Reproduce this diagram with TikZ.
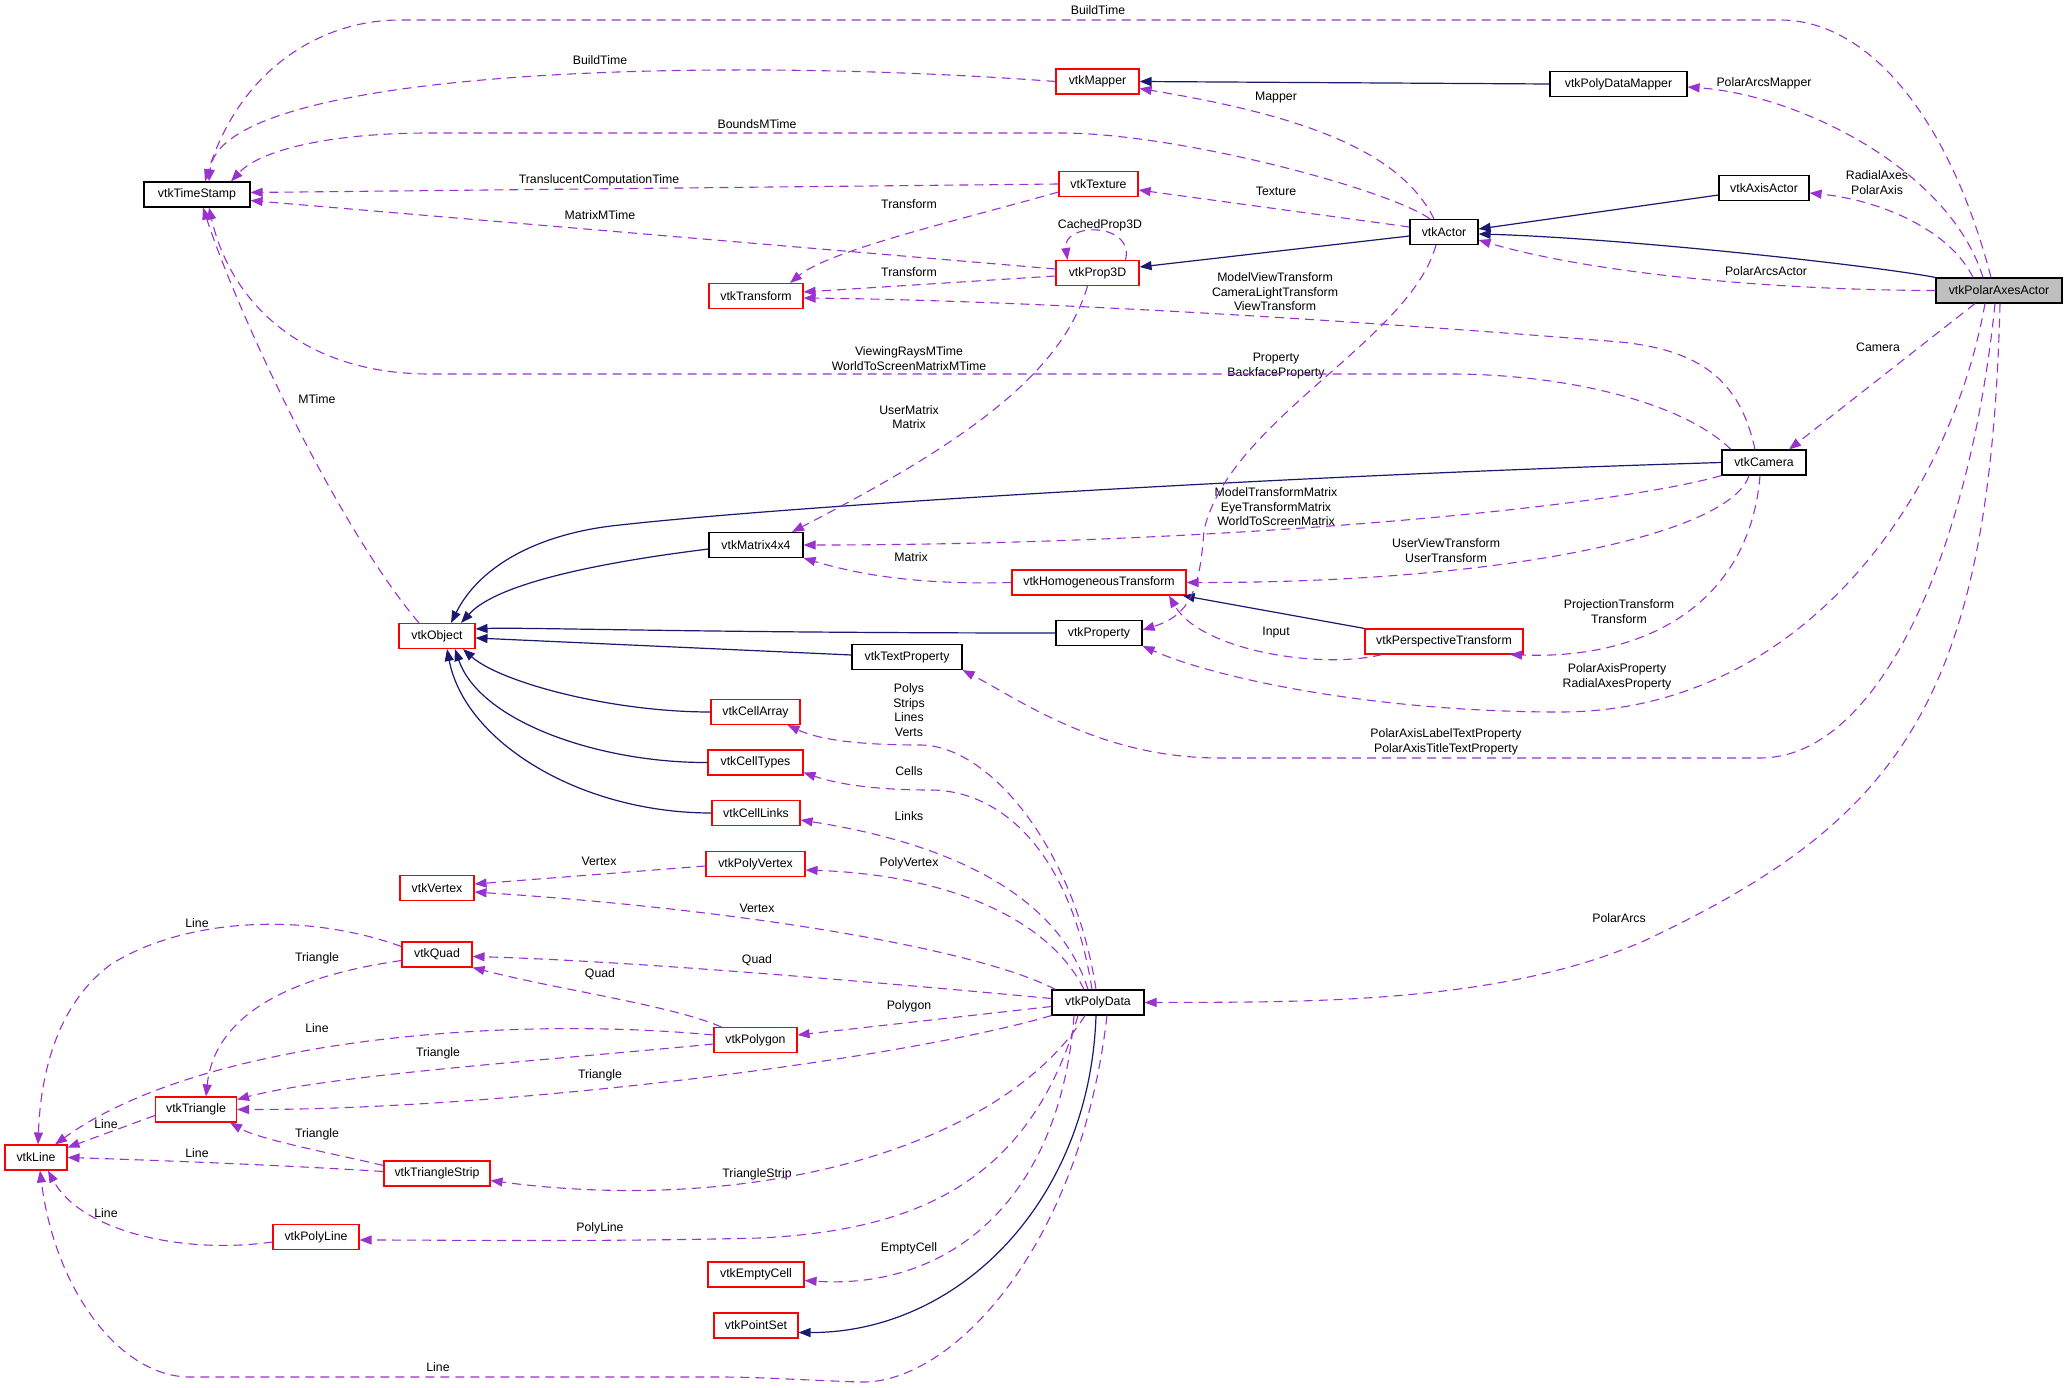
\documentclass[tikz,border=0pt]{standalone}
\usepackage{fontspec}
\setmainfont{Liberation Sans}
\usetikzlibrary{arrows.meta}
\definecolor{edgeuse} {RGB}{154,  50, 205}
\definecolor{edgeinh} {RGB}{ 25,  25, 112}
\definecolor{boxred}  {RGB}{255,   0,   0}
\definecolor{boxgray} {RGB}{191, 191, 191}

\begin{document}
\begin{tikzpicture}[x=1pt,y=-1pt,
	cls/.style={line width=1.1pt,minimum height=25pt,inner sep=0pt,font=\fontsize{12.3}{14.6}\selectfont},
	clsblack/.style={cls,draw=black,fill=white},
	clsred/.style={cls,draw=boxred,fill=white},
	clsmain/.style={cls,draw=black,fill=boxgray},
	lbl/.style={font=\fontsize{12.3}{14.6}\selectfont,align=center,inner sep=0pt},
	usage/.style={draw=edgeuse,line width=1.1pt,dash pattern=on 9pt off 6pt,-{Triangle[length=12pt,width=9pt]}},
	inherit/.style={draw=edgeinh,line width=1.2pt,-{Triangle[length=12pt,width=9pt]}}]
	\fill[white] (0,0) rectangle (2067,1388);
	\useasboundingbox (0,0) rectangle (2067,1388);
	% classes
	\foreach \nm/\x/\y/\w/\t in {ts/197/194.5/106/vtkTimeStamp, pdm/1618.5/84/137/vtkPolyDataMapper,
		axis/1764/188/90/vtkAxisActor, actor/1444/232/68/vtkActor, cam/1764/462.5/84/vtkCamera,
		mat/756/545/94/vtkMatrix4x4, prp/1099/633/86/vtkProperty, tp/907/657/110/vtkTextProperty,
		pd/1098/1002.5/92/vtkPolyData}
		{\node[clsblack,minimum width=\w pt] (\nm) at (\x,\y) {\t};}
	\foreach \nm/\x/\y/\w/\t in {mapper/1097.5/81.5/83/vtkMapper, tex/1098.5/184/79/vtkTexture,
		prop/1097.5/273/83/vtkProp3D, tr/756/296/94/vtkTransform, ht/1099/582.5/174/vtkHomogeneousTransform,
		obj/437/636/76/vtkObject, pt/1444/641.5/158/vtkPerspectiveTransform, ca/755.5/712/89/vtkCellArray,
		ct/755.5/762.5/95/vtkCellTypes, cl/756/813/88/vtkCellLinks, pv/755.5/864/99/vtkPolyVertex,
		vx/437/888/74/vtkVertex, quad/437/954.5/70/vtkQuad, pg/755.5/1040/83/vtkPolygon,
		tri/196/1109.5/81/vtkTriangle, ln/36/1157.5/62/vtkLine, tstrip/437/1173.5/106/vtkTriangleStrip,
		pl/316/1237/86/vtkPolyLine, ec/756/1274.5/96/vtkEmptyCell, ps/756/1325.5/84/vtkPointSet}
		{\node[clsred,minimum width=\w pt] (\nm) at (\x,\y) {\t};}
	\node[clsmain,minimum width=126pt] (pax) at (1999,290.5) {vtkPolarAxesActor};
	% edge labels
	\foreach \nm/\x/\y/\t in {lBuildA/1098/10/BuildTime, lArcsMapper/1764/83/PolarArcsMapper,
		lRadial/1877/182.5/{RadialAxes\\PolarAxis}, lArcsActor/1766/271/PolarArcsActor,
		lCamera/1878/347/Camera, lAxisProp/1617/677/{PolarAxisProperty\\RadialAxesProperty},
		lTextProp/1446/742/{PolarAxisLabelTextProperty\\PolarAxisTitleTextProperty},
		lArcs/1619/918/PolarArcs, lBounds/757/124/BoundsMTime, lMapper/1276/98/Mapper,
		lTexture/1276/191/Texture, lProperty/1276/366/{Property\\BackfaceProperty},
		lBuildB/600/60/BuildTime, lTransl/599/180/TranslucentComputationTime,
		lTransformA/909/204/Transform, lMatrixM/600/215/MatrixMTime, lTransformB/909/272/Transform,
		lCached/1100/225/CachedProp3D, lUserMatrix/909/417/{UserMatrix\\Matrix},
		lModelView/1275/292/{ModelViewTransform\\CameraLightTransform\\ViewTransform},
		lViewing/909/358.5/{ViewingRaysMTime\\WorldToScreenMatrixMTime},
		lModelMatrix/1276/507/{ModelTransformMatrix\\EyeTransformMatrix\\WorldToScreenMatrix},
		lUserView/1446/550.5/{UserViewTransform\\UserTransform},
		lProjection/1619/611.5/{ProjectionTransform\\Transform}, lMatrix/911/557/Matrix,
		lInput/1276/633/Input, lMTime/317/399/MTime, lPolys/909/710/{Polys\\Strips\\Lines\\Verts},
		lCells/909/771/Cells, lLinks/909/816/Links, lPolyVertex/909/863/PolyVertex,
		lVertexA/757/908/Vertex, lVertexB/599/861/Vertex, lQuadA/757/960/Quad,
		lPolygon/909/1006/Polygon, lTriangleA/600/1075/Triangle, lTriStrip/757/1174/TriangleStrip,
		lPolyLine/600/1228/PolyLine, lEmptyCell/909/1248/EmptyCell, lLineA/438/1367/Line,
		lLineB/197/923/Line, lTriangleB/317/958/Triangle, lQuadB/600/974/Quad, lLineC/317/1028/Line,
		lTriangleC/438/1053/Triangle, lLineD/106/1124/Line, lTriangleD/317/1134/Triangle,
		lLineE/197/1153/Line, lLineF/106/1213/Line}
		{\node[lbl] (\nm) at (\x,\y) {\t};}
	% inheritance
	\draw[inherit] (pdm.west) -- (mapper.east);
	\draw[inherit] ([yshift=-7pt]axis.west) -- ([yshift=3pt]actor.east);
	\draw[inherit] (pax.north west) .. controls (1870,265) and (1620,238) .. ([yshift=-2pt]actor.east);
	\draw[inherit] ([yshift=-4pt]actor.west) -- ([yshift=6pt]prop.east);
	\draw[inherit] (cam.west) .. controls (1300,475) and (800,505) .. (620,525)
		.. controls (540,533) and (480,565) .. ([xshift=14pt]obj.north);
	\draw[inherit] ([yshift=-4pt]mat.west) .. controls (620,560) and (500,580) .. ([xshift=24pt]obj.north);
	\draw[inherit] (prp.west) .. controls (700,633) and (520,627) .. ([yshift=7pt]obj.east);
	\draw[inherit] ([yshift=2pt]tp.west) -- ([yshift=-2pt]obj.east);
	\draw[inherit] (ca.west) .. controls (610,712) and (500,682) .. ([xshift=26pt]obj.south);
	\draw[inherit] (ct.west) .. controls (600,763) and (480,722) .. ([xshift=18pt]obj.south);
	\draw[inherit] (cl.west) .. controls (580,813) and (465,742) .. ([xshift=10pt]obj.south);
	\draw[inherit] (pt.north west) -- ([xshift=-4pt]ht.south east);
	\draw[inherit] ([xshift=-2pt]pd.south) .. controls (1090,1200) and (960,1333) .. ([yshift=-7pt]ps.east);
	% members of vtkPolarAxesActor
	\draw[usage] ([xshift=-8pt]pax.north) .. controls (1950,120) and (1870,20) .. (1780,20) -- (400,20)
		.. controls (320,20) and (240,70) .. ([xshift=8pt]ts.north);
	\draw[usage] ([xshift=-16pt]pax.north) .. controls (1950,170) and (1800,95) .. ([yshift=-3pt]pdm.east);
	\draw[usage] ([xshift=-26pt]pax.north) .. controls (1950,230) and (1880,200) .. ([yshift=-5pt]axis.east);
	\draw[usage] (pax.west) .. controls (1750,290) and (1580,270) .. ([yshift=-8pt]actor.east);
	\draw[usage] ([xshift=-24pt]pax.south) -- ([xshift=25pt]cam.north);
	\draw[usage] ([xshift=-14pt]pax.south) .. controls (1950,500) and (1800,712) .. (1560,712)
		.. controls (1380,712) and (1220,680) .. (prp.south east);
	\draw[usage] ([xshift=-4pt]pax.south) .. controls (1970,550) and (1880,758) .. (1760,758) -- (1220,758)
		.. controls (1100,758) and (1020,700) .. (tp.south east);
	\draw[usage] ([xshift=1pt]pax.south) .. controls (1990,700) and (1900,820) .. (1646,940)
		.. controls (1500,1005) and (1300,1002) .. (pd.east);
	% vtkActor, vtkMapper, vtkTexture, vtkProp3D
	\draw[usage] ([xshift=-14pt]actor.north) .. controls (1390,190) and (1180,133) .. (1060,133) -- (430,133)
		.. controls (330,133) and (260,150) .. ([xshift=34pt]ts.north);
	\draw[usage] ([xshift=-10pt]actor.north) .. controls (1400,150) and (1300,115) .. ([yshift=-7pt]mapper.east);
	\draw[usage] ([yshift=5pt]actor.west) -- ([yshift=-6pt]tex.east);
	\draw[usage] ([xshift=-8pt]actor.south) .. controls (1410,340) and (1230,420) .. (1204,530)
		.. controls (1200,590) and (1190,615) .. ([yshift=3pt]prp.east);
	\draw[usage] (mapper.west) .. controls (700,55) and (220,70) .. ([xshift=12pt]ts.north);
	\draw[usage] (tex.west) -- ([yshift=2pt]ts.east);
	\draw[usage] ([yshift=-8pt]tex.west) .. controls (960,220) and (830,250) .. ([xshift=34pt]tr.north);
	\draw[usage] ([yshift=4pt]prop.west) -- ([yshift=-6pt]ts.east);
	\draw[usage] ([yshift=-3pt]prop.west) -- ([yshift=4pt]tr.east);
	\draw[usage] ([xshift=28pt]prop.north) .. controls (1135,222) and (1062,222) .. ([xshift=-30pt]prop.north);
	\draw[usage] ([xshift=-10pt]prop.south) .. controls (1060,380) and (950,450) .. ([xshift=36pt]mat.north);
	% vtkCamera
	\draw[usage] ([xshift=-9pt]cam.north) .. controls (1740,380) and (1700,350) .. (1620,342)
		.. controls (1300,316) and (1000,300) .. ([yshift=-2pt]tr.east);
	\draw[usage] ([xshift=-33pt]cam.north) .. controls (1680,400) and (1560,374) .. (1450,374) -- (430,374)
		.. controls (300,374) and (230,300) .. ([xshift=12pt]ts.south);
	\draw[usage] (cam.south west) .. controls (1600,510) and (1200,545) .. (mat.east);
	\draw[usage] ([xshift=-15pt]cam.south) .. controls (1730,535) and (1500,583) .. (ht.east);
	\draw[usage] ([xshift=-4pt]cam.south) .. controls (1750,600) and (1650,660) .. ([xshift=66pt]pt.south);
	\draw[usage] (ht.west) .. controls (920,585) and (860,575) .. (mat.south east);
	\draw[usage] ([xshift=-62pt]pt.south) .. controls (1320,670) and (1200,650) .. ([xshift=70pt]ht.south);
	\draw[usage] ([xshift=-18pt]obj.north) .. controls (340,530) and (240,320) .. ([xshift=6pt]ts.south);
	% vtkPolyData
	\draw[usage] ([xshift=-2pt]pd.north) .. controls (1075,850) and (990,745) .. (920,745)
		.. controls (860,745) and (820,740) .. ([xshift=32pt]ca.south);
	\draw[usage] ([xshift=-6pt]pd.north) .. controls (1070,850) and (1000,790) .. (930,790)
		.. controls (880,790) and (840,785) .. ([yshift=-10pt]ct.east);
	\draw[usage] ([xshift=-10pt]pd.north) .. controls (1060,900) and (960,845) .. ([yshift=-7pt]cl.east);
	\draw[usage] ([xshift=-14pt]pd.north) .. controls (1050,920) and (950,875) .. ([yshift=-6pt]pv.east);
	\draw[usage] ([xshift=4pt]pd.north west) .. controls (980,950) and (750,910) .. ([yshift=-4pt]vx.east);
	\draw[usage] ([yshift=-2pt]pv.west) -- ([yshift=4pt]vx.east);
	\draw[usage] ([yshift=4pt]pd.west) .. controls (800,975) and (600,960) .. ([yshift=-2pt]quad.east);
	\draw[usage] ([yshift=-4pt]pd.west) -- ([yshift=5pt]pg.east);
	\draw[usage] (pd.south west) .. controls (900,1060) and (500,1110) .. (tri.east);
	\draw[usage] ([xshift=-13pt]pd.south) .. controls (1000,1150) and (750,1215) .. ([yshift=-7pt]tstrip.east);
	\draw[usage] ([xshift=-20pt]pd.south) .. controls (1030,1180) and (920,1230) .. (760,1238)
		.. controls (600,1242) and (450,1240) .. ([yshift=-3pt]pl.east);
	\draw[usage] ([xshift=-24pt]pd.south) .. controls (1060,1200) and (950,1290) .. ([yshift=-6pt]ec.east);
	\draw[usage] ([xshift=9pt]pd.south) .. controls (1080,1250) and (950,1385) .. (860,1382)
		.. controls (800,1380) and (760,1377) .. (720,1377) -- (190,1377)
		.. controls (120,1377) and (55,1290) .. ([xshift=4pt]ln.south);
	% cells
	\draw[usage] ([yshift=8pt]quad.west) .. controls (300,910) and (180,920) .. (110,965)
		.. controls (50,1010) and (40,1090) .. ([xshift=2pt]ln.north);
	\draw[usage] ([yshift=-6pt]quad.west) .. controls (300,975) and (215,1010) .. ([xshift=10pt]tri.north);
	\draw[usage] ([xshift=-34pt]pg.north) .. controls (670,1005) and (560,990) .. (quad.south east);
	\draw[usage] ([yshift=5pt]pg.west) .. controls (500,1015) and (200,1040) .. ([xshift=19pt]ln.north);
	\draw[usage] ([yshift=-4pt]pg.west) .. controls (550,1060) and (330,1075) .. ([yshift=10pt]tri.east);
	\draw[usage] ([yshift=-6pt]tri.west) -- ([yshift=10pt]ln.east);
	\draw[usage] ([yshift=2pt]tstrip.west) .. controls (280,1165) and (150,1160) .. (ln.east);
	\draw[usage] ([yshift=8pt]tstrip.west) .. controls (340,1155) and (260,1140) .. ([xshift=34pt]tri.south);
	\draw[usage] ([yshift=-5pt]pl.west) .. controls (180,1255) and (80,1230) .. ([xshift=12pt]ln.south);
\end{tikzpicture}
\end{document}
